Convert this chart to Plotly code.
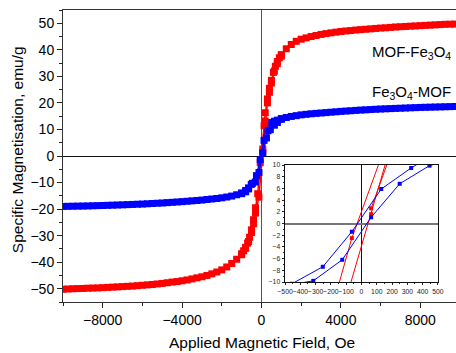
import plotly.graph_objects as go

# ---------------- data ----------------
# MOF-Fe3O4 (red), descending branch (+10000 -> -10000 Oe)
red_desc_H = [10000, 9750, 9500, 9250, 9000, 8750, 8500, 8250, 8000, 7750, 7500, 7250, 7000, 6750,
              6500, 6250, 6000, 5750, 5500, 5250, 5000, 4750, 4500, 4250, 4000, 3750, 3500, 3250,
              3000, 2750, 2500, 2250, 2000, 1750, 1500, 1250, 1000, 900, 800, 700, 600, 500, 400,
              300, 190, 130, -63, -190, -300, -400, -500, -600, -700, -800, -900, -1000, -1250,
              -1500, -1750, -2000, -2250, -2500, -2750, -3000, -3250, -3500, -3750, -4000, -4250,
              -4500, -4750, -5000, -5250, -5500, -5750, -6000, -6250, -6500, -6750, -7000, -7250,
              -7500, -7750, -8000, -8250, -8500, -8750, -9000, -9250, -9500, -9750, -10000]
red_desc_M = [49.8, 49.7, 49.65, 49.6, 49.5, 49.4, 49.3, 49.2, 49.1, 49.0, 48.9, 48.8, 48.7, 48.6,
              48.45, 48.3, 48.2, 48.05, 47.9, 47.75, 47.6, 47.45, 47.25, 47.1, 46.9, 46.65, 46.4, 46.1,
              45.8, 45.4, 45.0, 44.5, 44.0, 43.2, 42.0, 40.4, 38.2, 37.0, 35.6, 33.8, 31.5, 28.5, 25.5,
              21.5, 16.3, 11.4, -2.5, -14.2, -19.5, -24.0, -27.8, -30.6, -32.8, -34.4, -35.7, -36.8, -38.9,
              -40.5, -41.8, -42.9, -43.7, -44.4, -45.0, -45.5, -45.9, -46.3, -46.7, -47.0, -47.3,
              -47.5, -47.75, -48.0, -48.2, -48.4, -48.55, -48.7, -48.85, -49.0, -49.1, -49.2, -49.3,
              -49.4, -49.5, -49.6, -49.7, -49.75, -49.8, -49.9, -49.95, -50.0, -50.1, -50.2]
# red ascending branch near zero field (coincides with descending one at high field)
red_asc_H = [-1000, -800, -650, -500, -400, -300, -130, 63, 190, 300, 400, 500, 650, 800, 1000]
red_asc_M = [-37.2, -34.8, -32.2, -28.8, -25.5, -21.5, -15.5, 1.6, 13.2, 20.0, 24.0, 27.5, 32.0, 34.8, 37.6]
# red repeated measurement segment
red_rep_H = [63, 200]
red_rep_M = [2.6, 12.5]

# Fe3O4-MOF (blue), descending branch
blue_desc_H = [10000, 9750, 9500, 9250, 9000, 8750, 8500, 8250, 8000, 7750, 7500, 7250, 7000, 6750,
               6500, 6250, 6000, 5750, 5500, 5250, 5000, 4750, 4500, 4250, 4000, 3750, 3500, 3250,
               3000, 2750, 2500, 2250, 2000, 1750, 1500, 1250, 1000, 800, 650, 520, 325, 129, -63,
               -253, -455, -650, -800, -1000, -1250, -1500, -1750, -2000, -2250, -2500, -2750, -3000,
               -3250, -3500, -3750, -4000, -4250, -4500, -4750, -5000, -5250, -5500, -5750, -6000,
               -6250, -6500, -6750, -7000, -7250, -7500, -7750, -8000, -8250, -8500, -8750, -9000,
               -9250, -9500, -9750, -10000]
blue_desc_M = [18.7, 18.65, 18.6, 18.55, 18.5, 18.45, 18.4, 18.35, 18.3, 18.22, 18.15, 18.08, 18.0, 17.93,
               17.85, 17.78, 17.7, 17.6, 17.5, 17.4, 17.3, 17.18, 17.05, 16.93, 16.8, 16.65, 16.5, 16.35,
               16.2, 16.05, 15.9, 15.7, 15.5, 15.2, 14.9, 14.5, 14.1, 13.5, 13.1, 12.6, 9.5, 5.9, -1.4,
               -7.4, -10.3, -12.0, -13.0, -13.9, -14.6, -15.1, -15.45, -15.75, -16.0, -16.2, -16.4, -16.6,
               -16.75, -16.9, -17.05, -17.2, -17.32, -17.45, -17.57, -17.7, -17.8, -17.9, -18.0, -18.1,
               -18.17, -18.25, -18.32, -18.4, -18.46, -18.52, -18.58, -18.64, -18.7, -18.75, -18.8, -18.85,
               -18.88, -18.92, -18.96, -19.0]
blue_asc_H = [-1000, -800, -650, -515, -315, -126, 63, 250, 445, 650, 800, 1000]
blue_asc_M = [-14.2, -13.5, -12.4, -10.7, -9.8, -6.2, 1.06, 6.8, 9.9, 11.6, 12.6, 13.8]

x_ticks = [-8000, -4000, 0, 4000, 8000]
y_ticks = [-50, -40, -30, -20, -10, 0, 10, 20, 30, 40, 50]

RED = "#FF0000"
BLUE = "#0000FF"
FONT = "Liberation Sans, Arial, sans-serif"

series = [
    (red_desc_H, red_desc_M, RED),
    (red_asc_H, red_asc_M, RED),
    (red_rep_H, red_rep_M, RED),
    (blue_desc_H, blue_desc_M, BLUE),
    (blue_asc_H, blue_asc_M, BLUE),
]

fig = go.Figure()
# main plot
for H, M, c in series:
    fig.add_trace(go.Scatter(x=H, y=M, mode="lines+markers", xaxis="x", yaxis="y",
                             line=dict(color=c, width=1.5),
                             marker=dict(symbol="square", size=7, color=c, line=dict(width=0)),
                             showlegend=False, hoverinfo="skip"))
# inset
for H, M, c in series:
    fig.add_trace(go.Scatter(x=H, y=M, mode="lines+markers", xaxis="x2", yaxis="y2",
                             line=dict(color=c, width=1),
                             marker=dict(symbol="square", size=4, color=c, line=dict(width=0)),
                             showlegend=False, hoverinfo="skip"))

fig.update_layout(
    width=456, height=353,
    margin=dict(l=63, r=0, t=10, b=51, autoexpand=False),
    paper_bgcolor="white", plot_bgcolor="white",
    font=dict(family=FONT, color="black"),
    showlegend=False,
    xaxis=dict(range=[-10000, 9800], tickvals=x_ticks, ticks="outside", ticklen=5,
               tickcolor="#222", tickfont=dict(size=14), automargin=False,
               minor=dict(dtick=2000, tick0=0, ticks="outside", ticklen=3, tickcolor="#222"),
               showline=True, linecolor="#333", linewidth=1, mirror=True,
               showgrid=False, zeroline=True, zerolinecolor="#555", zerolinewidth=1.2),
    yaxis=dict(range=[-55, 55], tickvals=y_ticks, ticks="outside", ticklen=5,
               tickcolor="#222", tickfont=dict(size=14), automargin=False,
               minor=dict(dtick=5, tick0=0, ticks="outside", ticklen=3, tickcolor="#222"),
               showline=True, linecolor="#333", linewidth=1, mirror=False,
               showgrid=False, zeroline=True, zerolinecolor="#111", zerolinewidth=1),
    xaxis2=dict(domain=[0.565, 0.954], anchor="y2", range=[-500, 500], dtick=100, tick0=0,
                tickangle=0, ticks="outside", ticklen=2.5, tickcolor="#222", automargin=False,
                tickfont=dict(size=6.8, color="#222"),
                minor=dict(dtick=50, tick0=0, ticks="outside", ticklen=1.5, tickcolor="#222"),
                showline=True, linecolor="#111", linewidth=1, mirror=True,
                showgrid=False, zeroline=True, zerolinecolor="#111", zerolinewidth=1),
    yaxis2=dict(domain=[0.0685, 0.469], anchor="x2", range=[-10, 10], dtick=2, tick0=0,
                ticks="outside", ticklen=2.5, tickcolor="#222", automargin=False,
                tickfont=dict(size=6.8, color="#222"),
                minor=dict(dtick=1, tick0=0, ticks="outside", ticklen=1.5, tickcolor="#222"),
                showline=True, linecolor="#111", linewidth=1, mirror=True,
                showgrid=False, zeroline=True, zerolinecolor="#777", zerolinewidth=1.5),
    annotations=[
        dict(text="Applied Magnetic Field, Oe", xref="paper", yref="paper", x=0.5056, y=-0.14,
             xanchor="center", yanchor="middle", showarrow=False, font=dict(size=15.5)),
        dict(text="Specific Magnetisation, emu/g", xref="paper", yref="paper", x=-0.117, y=0.52,
             xanchor="center", yanchor="middle", textangle=-90, showarrow=False, font=dict(size=15.5)),
        dict(text="MOF-Fe<sub>3</sub>O<sub>4</sub>", xref="paper", yref="paper", x=0.992, y=0.856,
             xanchor="right", yanchor="middle", showarrow=False, font=dict(size=15)),
        dict(text="Fe<sub>3</sub>O<sub>4</sub>-MOF", xref="paper", yref="paper", x=0.992, y=0.716,
             xanchor="right", yanchor="middle", showarrow=False, font=dict(size=15)),
    ],
)

fig.write_html("out.html", config={"displayModeBar": False},
               post_script="document.body.style.margin='0';document.body.style.padding='0';document.body.style.overflow='hidden';")
